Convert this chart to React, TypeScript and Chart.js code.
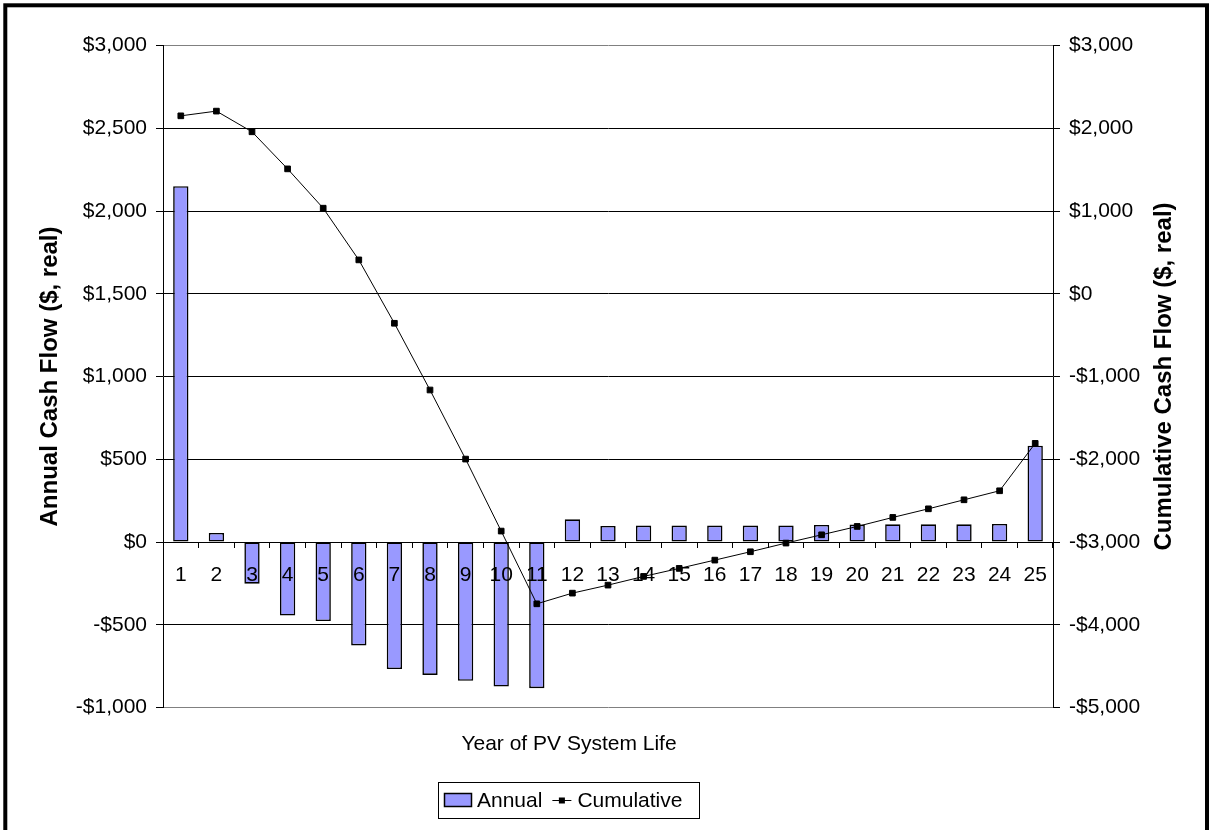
import React, { useEffect, useRef } from 'react';
import { Chart, registerables } from 'chart.js';

Chart.register(...registerables);

const FONT = 'Arial, "Liberation Sans", Helvetica, sans-serif';
Chart.defaults.font.family = FONT;
Chart.defaults.color = '#000';

// ---- data ----
const years = ['1','2','3','4','5','6','7','8','9','10','11','12','13','14','15','16','17','18','19','20','21','22','23','24','25'];
const annualCashFlow = [2150, 55, -252, -444, -478, -625, -768, -803, -839, -873, -883, 137, 97, 99, 99, 99, 99, 100, 103, 105, 107, 107, 107, 109, 582];
const cumulativeCashFlow = [2150, 2207, 1957, 1509, 1034, 409, -357, -1163, -1998, -2868, -3747, -3618, -3521, -3416, -3319, -3219, -3118, -3013, -2913, -2812, -2703, -2599, -2490, -2381, -1808];
const annualAxisTicks = [-1000, -500, 0, 500, 1000, 1500, 2000, 2500, 3000];
const cumulativeAxisTicks = [-5000, -4000, -3000, -2000, -1000, 0, 1000, 2000, 3000];
const seriesLabels = ['Annual', 'Cumulative'];
const xAxisTitle = 'Year of PV System Life';
const leftAxisTitle = 'Annual Cash Flow ($, real)';
const rightAxisTitle = 'Cumulative Cash Flow ($, real)';

const fmtMoney = (v: number | string) => {
  const n = Number(v);
  return (n < 0 ? '-' : '') + '$' + Math.abs(n).toLocaleString('en-US');
};

const decorPlugin = {
  id: 'decor',
  beforeDraw(chart: any) {
    const { ctx, width, height } = chart;
    ctx.save();
    ctx.fillStyle = '#fff';
    ctx.fillRect(0, 0, width, height);
    ctx.restore();
  },
  afterDraw(chart: any) {
    const { ctx, chartArea } = chart;
    ctx.save();
    // outer frame
    ctx.strokeStyle = '#000';
    ctx.lineWidth = 4;
    ctx.strokeRect(5.3, 5.3, 1201.7, 900);

    // right axis title (reads bottom to top)
    const cy = (chartArea.top + chartArea.bottom) / 2;
    ctx.save();
    ctx.translate(1164, cy);
    ctx.rotate(-Math.PI / 2);
    ctx.font = `bold 24px ${FONT}`;
    ctx.fillStyle = '#000';
    ctx.textAlign = 'center';
    ctx.textBaseline = 'middle';
    ctx.fillText(rightAxisTitle, 0, 0);
    ctx.restore();

    // x axis title
    ctx.font = `21px ${FONT}`;
    ctx.fillStyle = '#000';
    ctx.textAlign = 'center';
    ctx.textBaseline = 'middle';
    ctx.fillText(xAxisTitle, 569, 744);

    // legend
    const ds = chart.data.datasets;
    const barDs = ds.find((d: any) => d.type === 'bar');
    const lineDs = ds.find((d: any) => d.type === 'line');
    const bx = 438, by = 782, bw = 261, bh = 36;
    ctx.lineWidth = 1;
    ctx.strokeStyle = '#000';
    ctx.strokeRect(bx + 0.5, by + 0.5, bw, bh);
    const midY = by + bh / 2;
    // bar swatch
    ctx.fillStyle = barDs.backgroundColor;
    ctx.fillRect(444, midY - 7, 28, 14);
    ctx.strokeStyle = barDs.borderColor;
    ctx.lineWidth = 1.5;
    ctx.strokeRect(444.5, midY - 6.5, 27, 13);
    ctx.lineWidth = 1;
    ctx.fillStyle = '#000';
    ctx.textAlign = 'left';
    ctx.font = `21px ${FONT}`;
    ctx.fillText(barDs.label, 477, midY + 1);
    const t1 = ctx.measureText(barDs.label).width;
    const lx = 477 + t1 + 10;
    ctx.strokeStyle = lineDs.borderColor;
    ctx.beginPath();
    ctx.moveTo(lx, midY + 0.5);
    ctx.lineTo(lx + 19, midY + 0.5);
    ctx.stroke();
    ctx.fillStyle = lineDs.pointBackgroundColor;
    ctx.fillRect(lx + 9.5 - 3, midY + 0.5 - 3, 6, 6);
    ctx.fillStyle = '#000';
    ctx.fillText(lineDs.label, lx + 25, midY + 1);
    ctx.restore();
  },
};

export default function App() {
  const ref = useRef<HTMLCanvasElement>(null);

  useEffect(() => {
    if (!ref.current) return;
    const chart = new Chart(ref.current, {
      type: 'bar',
      data: {
        labels: years,
        datasets: [
          {
            type: 'line',
            label: seriesLabels[1],
            data: cumulativeCashFlow,
            yAxisID: 'y1',
            borderColor: '#000',
            borderWidth: 1,
            pointStyle: 'rect',
            pointRadius: 4,
            pointBackgroundColor: '#000',
            pointBorderColor: '#000',
            pointBorderWidth: 1,
            tension: 0,
            fill: false,
            order: 0,
          } as any,
          {
            type: 'bar',
            label: seriesLabels[0],
            data: annualCashFlow,
            yAxisID: 'y',
            backgroundColor: '#9999FF',
            borderColor: '#000000',
            borderWidth: 1.6,
            borderSkipped: false,
            inflateAmount: 0,
            barPercentage: 0.43,
            categoryPercentage: 1,
            order: 1,
          } as any,
        ],
      },
      options: {
        responsive: false,
        animation: false,
        devicePixelRatio: 1,
        layout: { padding: { top: 45.5, bottom: 122.5, left: 0, right: 0 } },
        plugins: {
          legend: { display: false },
          tooltip: { enabled: false },
        },
        scales: {
          x: {
            position: { y: 0 } as any,
            offset: true,
            grid: {
              display: true,
              drawOnChartArea: false,
              drawTicks: true,
              tickLength: 5,
              tickColor: '#000',
              offset: true,
            },
            border: { display: true, color: '#000', width: 1, z: 1 },
            ticks: { color: '#000', font: { size: 21 }, padding: 16, maxRotation: 0, autoSkip: false, z: 2 },
          },
          y: {
            position: 'left',
            min: annualAxisTicks[0],
            max: annualAxisTicks[annualAxisTicks.length - 1],
            ticks: {
              stepSize: annualAxisTicks[1] - annualAxisTicks[0],
              callback: (v: any) => fmtMoney(v),
              padding: 9,
              color: '#000',
              font: { size: 21 },
            },
            grid: {
              color: (c: any) =>
                c.tick && (c.tick.value === annualAxisTicks[0] || c.tick.value === annualAxisTicks[annualAxisTicks.length - 1])
                  ? '#808080'
                  : '#000',
              lineWidth: 1,
              tickLength: 7,
              tickColor: '#000',
            },
            border: { color: '#000', width: 1 },
            title: {
              display: true,
              text: leftAxisTitle,
              color: '#000',
              font: { size: 24, weight: 'bold' },
              padding: { top: 35.6, bottom: 0 },
            },
            afterFit: (s: any) => {
              s.width = 163;
            },
          },
          y1: {
            position: 'right',
            min: cumulativeAxisTicks[0],
            max: cumulativeAxisTicks[cumulativeAxisTicks.length - 1],
            ticks: {
              stepSize: cumulativeAxisTicks[1] - cumulativeAxisTicks[0],
              callback: (v: any) => fmtMoney(v),
              padding: 9,
              color: '#000',
              font: { size: 21 },
            },
            grid: { drawOnChartArea: false, tickLength: 7, tickColor: '#000' },
            border: { color: '#000', width: 1 },
            afterFit: (s: any) => {
              s.width = 156;
            },
          },
        } as any,
      },
      plugins: [decorPlugin],
    });
    return () => chart.destroy();
  }, []);

  return (
    <div style={{ position: 'absolute', left: 0, top: 0, width: 1209, height: 830 }}>
      <canvas ref={ref} width={1209} height={830} style={{ display: 'block' }} />
    </div>
  );
}
